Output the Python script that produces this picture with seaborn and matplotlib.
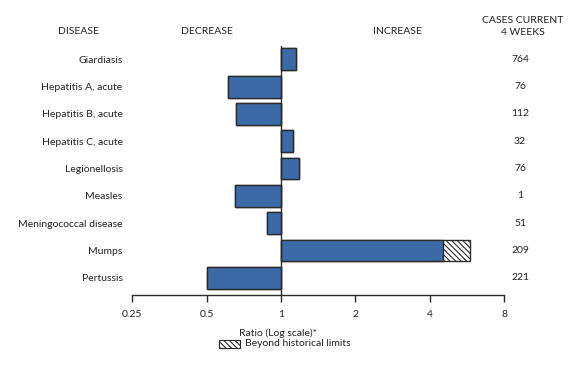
import numpy as np
import pandas as pd
import seaborn as sns
import matplotlib
matplotlib.use("Agg")
import matplotlib.pyplot as plt
from matplotlib.patches import Rectangle
import matplotlib.transforms as mtransforms

# values
diseases = ["Giardiasis", "Hepatitis A, acute", "Hepatitis B, acute", "Hepatitis C, acute",
            "Legionellosis", "Measles", "Meningococcal disease", "Mumps", "Pertussis"]
ratios = [1.15, 0.61, 0.66, 1.12, 1.18, 0.65, 0.88, 4.53, 0.50]
beyond_limits = [1.15, 0.61, 0.66, 1.12, 1.18, 0.65, 0.88, 5.8, 0.50]
cases_4wk = [764, 76, 112, 32, 76, 1, 51, 209, 221]
tick_values = [0.25, 0.5, 1, 2, 4, 8]

W, H = 572, 373
BLUE = "#3b6aa6"
EDGE = "#2b2b2b"

sns.set_theme(style="white")
plt.rcParams["font.family"] = ["Lato", "DejaVu Sans"]
plt.rcParams["hatch.linewidth"] = 0.8
plt.rcParams["hatch.color"] = "#444444"

df = pd.DataFrame({"disease": diseases,
                   "log_ratio": np.log2(ratios),
                   "log_beyond": np.log2(beyond_limits)})

fig = plt.figure(figsize=(W / 100, H / 100), dpi=100)
ax = fig.add_axes([132.3 / W, 1 - 294.7 / H, (504 - 132.3) / W, (294.7 - 45.7) / H])

# hatched part first, blue bar drawn over it
sns.barplot(data=df, x="log_beyond", y="disease", orient="h", ax=ax, width=0.8,
            color="white", edgecolor=EDGE, linewidth=1.0, hatch="\\\\\\\\\\\\", saturation=1)
sns.barplot(data=df, x="log_ratio", y="disease", orient="h", ax=ax, width=0.8,
            color=BLUE, edgecolor=EDGE, linewidth=1.0, saturation=1)

ax.axvline(0, color=EDGE, lw=1.0, zorder=5)
ax.set_xlim(-2, 3)
ax.set_ylim(8.62, -0.5)
ax.set_xticks(np.log2(tick_values))
ax.set_xticklabels([f"{v:g}" for v in tick_values], fontsize=7.5, color="#222222")
ax.tick_params(axis="x", direction="out", length=5, width=1, color=EDGE, pad=6, bottom=True)
ax.tick_params(axis="y", length=0, pad=7, labelsize=7.5, labelcolor="#222222")
ax.set_xlabel("")
ax.set_ylabel("")
for s in ["top", "right", "left"]:
    ax.spines[s].set_visible(False)
ax.spines["bottom"].set_color(EDGE)
ax.spines["bottom"].set_linewidth(1.0)

# cases column
trans = mtransforms.blended_transform_factory(fig.transFigure, ax.transData)
for i, n in enumerate(cases_4wk):
    ax.text(520 / W, i, str(n), transform=trans, ha="center", va="center",
            fontsize=7.5, color="#222222", clip_on=False)

def ftext(x, y, s, **kw):
    fig.text(x / W, 1 - y / H, s, fontsize=7.5, color="#222222", **kw)

ftext(79, 31, "DISEASE", ha="center", va="center")
ftext(207, 31, "DECREASE", ha="center", va="center")
ftext(397, 31, "INCREASE", ha="center", va="center")
ftext(523, 26.5, "CASES CURRENT\n4 WEEKS", ha="center", va="center", linespacing=1.3)
ftext(278, 333, "Ratio (Log scale)*", ha="center", va="center")

fig.add_artist(Rectangle((219 / W, 1 - 348 / H), 21 / W, 8 / H, transform=fig.transFigure,
                         facecolor="white", edgecolor=EDGE, lw=0.8, hatch="\\\\\\\\\\\\"))
ftext(245, 344, "Beyond historical limits", ha="left", va="center")

fig.savefig("out.png", dpi=100)
